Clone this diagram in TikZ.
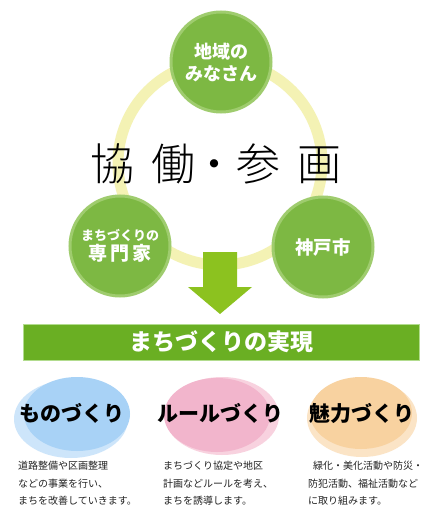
\documentclass[tikz,border=0pt]{standalone}
\usepackage{fontspec}
\usetikzlibrary{shapes.geometric}
\newfontfamily\jp{Noto Sans CJK JP}
\IfFontExistsTF{Noto Sans CJK JP Light}{\newfontfamily\jplight{Noto Sans CJK JP Light}}{\newfontfamily\jplight{Noto Sans CJK JP}}
\IfFontExistsTF{Noto Sans CJK JP Black}{\newfontfamily\jpheavy{Noto Sans CJK JP Black}}{\newfontfamily\jpheavy{Noto Sans CJK JP}[FakeBold=1.5]}
\definecolor{ringY}{HTML}{F4F2B4}
\definecolor{gFill}{HTML}{7DB843}
\definecolor{gEdge}{HTML}{9FCC6E}
\definecolor{arrowG}{HTML}{8CC21F}
\definecolor{bannerG}{HTML}{6AAF23}
\definecolor{bannerE}{HTML}{B2DC8E}
\definecolor{bMain}{HTML}{A8D2F6}
\definecolor{bHalo}{HTML}{CDE5FA}
\definecolor{pMain}{HTML}{F2B5CC}
\definecolor{pHalo}{HTML}{F8D2DF}
\definecolor{oMain}{HTML}{F8D2A0}
\definecolor{oHalo}{HTML}{FBE4C6}
\definecolor{txt}{HTML}{222222}
\tikzset{
  actor/.style={circle, fill=gFill, draw=gEdge, line width=3pt, minimum size=100pt, inner sep=0pt, text=white, align=center},
  blobtext/.style={inner sep=0pt, font=\jpheavy\fontsize{21}{24}\selectfont, text=black},
  desc/.style={anchor=north west, inner sep=0pt, align=left, text=txt, font=\jp\fontsize{10}{17.5}\selectfont}
}
\begin{document}
\begin{tikzpicture}[x=1pt,y=-1pt]
\useasboundingbox (0,0) rectangle (440,513);
\fill[white] (0,0) rectangle (440,513);
% ring
\coordinate (rc) at (220,163);
\draw[ringY, line width=11pt] (rc) circle[radius=102pt];
% arrow
\coordinate (a1) at (203,252);
\coordinate (a2) at (237,252);
\coordinate (a3) at (237,287);
\coordinate (a4) at (252,287);
\coordinate (tip) at (220,314);
\coordinate (a6) at (188,287);
\coordinate (a7) at (203,287);
\fill[arrowG] (a1) -- (a2) -- (a3) -- (a4) -- (tip) -- (a6) -- (a7) -- cycle;
% actors
\node[actor, font=\jp\bfseries\fontsize{18}{22}\selectfont] (resident) at (221,62) {地域の\\みなさん};
\node[actor] (expert) at (120,246) {{\jp\bfseries\fontsize{13}{15}\selectfont まちづくりの}\\[2pt]{\jp\bfseries\fontsize{19}{22}\selectfont 専\hspace{3pt}門\hspace{3pt}家}};
\node[actor, font=\jp\bfseries\fontsize{18.5}{22}\selectfont] (city) at (323,247) {神戸市};
% title
\node[font=\jplight\fontsize{44}{48}\selectfont, inner sep=0pt] (title) at (216,164) {協\hspace{18pt}働\hspace{-4pt}・\hspace{1pt}参\hspace{17pt}画};
% banner
\node[fill=bannerG, draw=bannerE, line width=0.8pt, minimum width=396pt, minimum height=36pt, inner sep=0pt, text=white, font=\jp\bfseries\fontsize{23}{26}\selectfont] (goal) at (221,342) {まちづくりの実現};
% three ellipses
\fill[bHalo] (71,419) ellipse[x radius=57pt, y radius=39pt];
\fill[bMain] (77,414) ellipse[x radius=53pt, y radius=37pt];
\fill[pHalo] (222,416) ellipse[x radius=57pt, y radius=39pt];
\fill[pMain] (217,415) ellipse[x radius=53pt, y radius=37pt];
\fill[oHalo] (362,418) ellipse[x radius=55pt, y radius=39pt];
\fill[oMain] (361,413) ellipse[x radius=51pt, y radius=36pt];
\node[blobtext] (mono) at (72,413) {ものづくり};
\node[blobtext] (rule) at (220,413) {ルールづくり};
\node[blobtext] (miryoku) at (362,413) {魅力づくり};
% descriptions
\node[desc] (d1) at (18,461) {道路整備や区画整理\\などの事業を行い、\\まちを改善していきます。};
\node[desc] (d2) at (163,461) {まちづくり協定や地区\\計画などルールを考え、\\まちを誘導します。};
\node[desc] (d3) at (308,461) {\hspace{5pt}緑化・美化活動や防災・\\防犯活動、福祉活動など\\に取り組みます。};
\end{tikzpicture}
\end{document}
